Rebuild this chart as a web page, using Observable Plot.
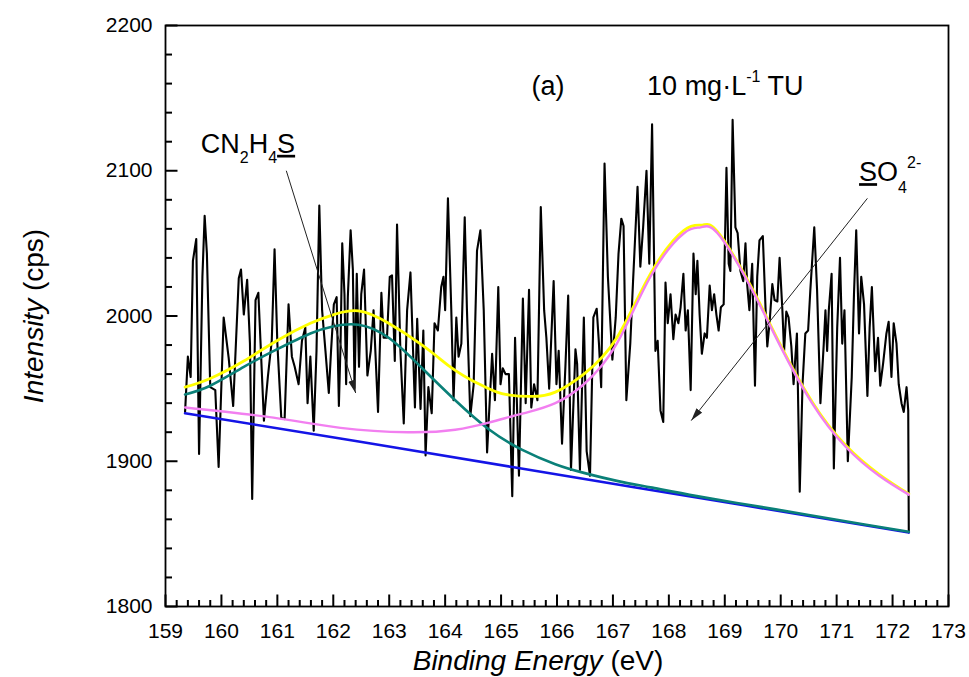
<!DOCTYPE html>
<html><head><meta charset="utf-8">
<script src="https://cdn.jsdelivr.net/npm/d3@7"></script>
<script src="https://cdn.jsdelivr.net/npm/@observablehq/plot@0.6"></script>
<style>body{margin:0;background:#fff}</style>
</head><body><div id="chart"></div>
<script>
// ---- raw XPS spectrum (binding energy eV, intensity cps) ----
const energy = [
159.35,159.40,159.45,159.49,159.55,159.60,159.66,159.70,159.74,159.80,
159.89,159.95,160.04,160.13,160.21,160.31,160.35,160.40,160.46,160.51,
160.55,160.61,160.66,160.70,160.76,160.83,160.90,160.95,161.00,161.07,
161.13,161.20,161.26,161.31,161.38,161.44,161.50,161.54,161.59,161.65,
161.70,161.75,161.80,161.86,161.92,161.96,162.01,162.06,162.10,162.13,
162.16,162.20,162.23,162.26,162.31,162.35,162.38,162.42,162.46,162.50,
162.55,162.61,162.67,162.72,162.80,162.86,162.90,162.96,163.01,163.05,
163.10,163.14,163.20,163.26,163.32,163.38,163.46,163.50,163.56,163.61,
163.65,163.70,163.76,163.81,163.87,163.93,163.97,164.00,164.05,164.11,
164.15,164.20,164.24,164.29,164.35,164.39,164.45,164.51,164.57,164.63,
164.69,164.75,164.84,164.89,164.95,164.99,165.03,165.08,165.14,165.20,
165.25,165.32,165.39,165.44,165.50,165.54,165.59,165.65,165.71,165.77,
165.81,165.86,165.94,165.99,166.03,166.09,166.15,166.20,166.25,166.33,
166.36,166.41,166.48,166.53,166.59,166.65,166.71,166.75,166.79,166.85,
166.91,166.99,167.05,167.10,167.15,167.19,167.24,167.31,167.36,167.44,
167.49,167.54,167.60,167.65,167.70,167.76,167.80,167.85,167.90,167.94,
167.98,168.03,168.08,168.12,168.17,168.21,168.26,168.30,168.34,168.39,
168.44,168.48,168.51,168.55,168.59,168.64,168.68,168.73,168.77,168.81,
168.85,168.89,168.93,168.98,169.03,169.07,169.10,169.14,169.19,169.23,
169.28,169.33,169.37,169.40,169.44,169.49,169.54,169.58,169.62,169.68,
169.73,169.76,169.80,169.85,169.89,169.94,169.98,170.03,170.06,170.10,
170.14,170.19,170.23,170.29,170.34,170.39,170.44,170.49,170.53,170.60,
170.65,170.71,170.77,170.80,170.83,170.86,170.91,170.95,171.01,171.06,
171.10,171.14,171.20,171.27,171.31,171.35,171.40,171.44,171.49,171.55,
171.59,171.63,171.69,171.74,171.78,171.83,171.89,171.93,171.98,172.02,
172.07,172.11,172.16,172.20,172.25,172.28,172.29];
const counts = [
1934,1972,1958,2038,2053,1905,2027,2069,2043,1951,
1949,1896,1999,1971,1938,2026,2032,2001,2025,1981,
1874,2011,2016,1981,1928,1958,1983,2046,1981,1930,
1929,2008,1972,1965,1953,1983,1992,1940,1972,1921,
1976,2076,2004,1976,1947,1976,2008,2013,1938,1981,
2050,2015,1953,2013,2059,2032,1950,2029,1965,2015,
2032,1959,1976,2004,1934,2016,1985,1985,2027,2028,
1969,2063,1976,1926,2004,2030,1937,1998,1936,1990,
1904,1951,1933,1995,1990,2020,2027,2004,2081,2004,
1942,1999,1972,1981,2068,2004,1931,1953,2045,2059,
2004,1906,1974,1942,2020,1953,1964,1960,1960,1876,
1985,1890,2012,1940,2018,1937,1953,1942,2075,2004,
1985,1950,2024,1953,1976,1912,1965,2014,1894,1977,
1967,1894,1999,1907,1890,1999,2005,1981,1951,2105,
2027,1970,1999,2043,2067,2062,1942,1981,2024,2089,
2034,2061,2100,2036,2132,1976,1983,1935,1927,2023,
1995,2015,1984,2001,1995,2006,2029,1990,2004,1949,
2043,2015,2038,2001,1974,1988,1985,2021,2004,2015,
2001,1990,2006,2008,2102,2036,2031,2135,2061,2057,
2031,2024,2050,2022,2004,2036,1952,2027,2052,2055,
2004,1979,1995,2022,2011,2010,2040,2004,1976,2003,
1999,1979,1953,1988,1879,1953,1988,1990,2018,2061,
2018,1940,1981,2004,1976,2004,2029,1895,1992,2040,
1981,2004,1900,1958,2015,2059,1988,2027,2008,1945,
1992,2020,1962,1985,1952,1967,1988,1996,1958,1995,
1981,1953,1940,1934,1951,1935,1851];

// ---- fitted curves ----
const bgEnergy = [159.35,162.40,165.20,169.37,172.29];
const bgCounts = [1933,1914,1896,1869.5,1851];
const tuEnergy = [159.35,159.80,160.40,160.99,161.59,162.01,162.45,162.99,163.59,164.18,164.78,165.37,165.97,166.48,167.07,167.67,168.50,169.50,170.50,171.50,172.29];
const tuCounts = [1946,1952,1965,1977,1988,1993,1994,1985,1964,1942,1922,1908,1898,1892,1886.5,1882,1876,1869.5,1863,1856.5,1851.5];
const envEnergy = [159.35,159.80,160.40,160.99,161.59,162.01,162.45,162.99,163.59,163.89,164.18,164.48,164.78,165.08,165.55,165.97,166.48,167.07,167.67,168.27,168.60,168.87,169.46,169.97,170.56,171.16,171.76,172.29];
const envCounts = [1951,1957,1969,1983,1995,2001,2003.5,1995,1980,1971,1962.5,1955.6,1950,1946,1944.6,1947.6,1960,1985,2029,2059,2062.6,2058,2021,1982,1941,1911,1891,1877.5];
const so4Energy = [159.35,160.93,162.13,163.33,164.18,164.78,165.20,165.50,165.97,166.48,167.07,167.67,168.27,168.57,168.87,169.46,169.97,170.56,171.16,171.76,172.29];
const so4Counts = [1937,1930,1923,1920,1921.7,1926.6,1931,1934,1940,1953,1981,2027,2057,2061,2057,2020,1981,1940,1910,1890,1877];

// ---- ticks ----
const xMajor = [159,160,161,162,163,164,165,166,167,168,169,170,171,172,173];
const xMinor = d3.range(0, 70).map(i => 159 + i * 0.2).filter((v, i) => i % 5 !== 0);
const yMajor = [1800, 1900, 2000, 2100, 2200];
const yMinor = d3.range(0, 20).map(i => 1800 + i * 20).filter((v, i) => i % 5 !== 0);

// ---- annotation arrows ----
const arrowStartE = [161.16, 171.55];
const arrowStartC = [2100, 2081];
const arrowEndE = [162.40, 168.40];
const arrowEndC = [1947, 1928];

const FONT = "'Liberation Sans', Arial, Helvetica, sans-serif";
const toRows = (xs, ys) => xs.map((x, i) => ({x, y: ys[i]}));
const raw = toRows(energy, counts);
const bg = toRows(bgEnergy, bgCounts);
const tu = toRows(tuEnergy, tuCounts);
const env = toRows(envEnergy, envCounts);
const so4 = toRows(so4Energy, so4Counts);
const arrows = arrowStartE.map((e, i) => ({x1: e, y1: arrowStartC[i], x2: arrowEndE[i], y2: arrowEndC[i]}));

const W = 969, H = 677, ML = 165, MR = 21, MT = 25, MB = 71;
const innerW = W - ML - MR, innerH = H - MT - MB;
// tick lengths (pixels) converted to data units of each scale
const kY = 400 / innerH, kX = 14 / innerW;
const xTicks = [...xMajor.map(v => ({v, l: 12})), ...xMinor.map(v => ({v, l: 6.5}))];
const yTicks = [...yMajor.map(v => ({v, l: 12})), ...yMinor.map(v => ({v, l: 6.5}))];

const plot = Plot.plot({
  width: W, height: H,
  marginLeft: ML, marginRight: MR, marginTop: MT, marginBottom: MB,
  x: {domain: [159, 173]},
  y: {domain: [1800, 2200]},
  style: {fontFamily: FONT, background: "white", color: "black"},
  marks: [
    Plot.line(raw, {x: "x", y: "y", stroke: "#000", strokeWidth: 2.1}),
    Plot.line(bg, {x: "x", y: "y", stroke: "#1414e6", strokeWidth: 2.6, curve: "natural"}),
    Plot.line(tu, {x: "x", y: "y", stroke: "#0a8078", strokeWidth: 2.6, curve: "natural"}),
    Plot.line(env, {x: "x", y: "y", stroke: "#ffff00", strokeWidth: 2.8, curve: "natural"}),
    Plot.line(so4, {x: "x", y: "y", stroke: "#f27ff0", strokeWidth: 2.4, curve: "natural"}),
    Plot.link(arrows, {x1: "x1", y1: "y1", x2: "x2", y2: "y2", stroke: "#222", strokeWidth: 1, markerEnd: "arrow"}),
    Plot.link(xTicks, {x1: "v", x2: "v", y1: () => 1800, y2: d => 1800 + d.l * kY, stroke: "#000", strokeWidth: 2}),
    Plot.link(yTicks, {y1: "v", y2: "v", x1: () => 159, x2: d => 159 + d.l * kX, stroke: "#000", strokeWidth: 2}),
    Plot.frame({stroke: "#000", strokeWidth: 1.8}),
    Plot.axisX({ticks: xMajor, tickSize: 0, tickPadding: 17, tickFormat: d => String(d), fontSize: 21, label: null}),
    Plot.axisY({ticks: yMajor, tickSize: 0, tickPadding: 13, tickFormat: d => String(d), fontSize: 21, label: null})
  ]
});
document.getElementById("chart").appendChild(plot);

// filled arrowheads (only the annotation arrows carry markers)
d3.select(plot).selectAll("marker")
  .attr("viewBox", "-13 -4 13 8").attr("markerWidth", 13).attr("markerHeight", 8)
  .attr("markerUnits", "userSpaceOnUse").attr("fill", "#222").attr("stroke", "none")
  .selectAll("path").attr("d", "M-13,-3.6L0,0L-13,3.6Z");

const X = plot.scale("x"), Y = plot.scale("y");
const svg = d3.select(plot);
const g = svg.append("g").attr("font-family", FONT).attr("fill", "#000");
function addText(x, y, parts, opts = {}) {
  const t = g.append("text").attr("x", x).attr("y", y)
    .attr("font-size", opts.size || 27).attr("text-anchor", opts.anchor || "start");
  if (opts.transform) t.attr("transform", opts.transform).attr("x", 0).attr("y", 0);
  for (const p of parts) {
    const s = t.append("tspan").text(p.t);
    if (p.dy) s.attr("dy", p.dy);
    if (p.size) s.attr("font-size", p.size);
    if (p.u) s.attr("text-decoration", "underline");
    if (p.i) s.attr("font-style", "italic");
  }
  return t;
}
// panel annotations, placed through the plot's scales
addText(X.apply(165.85), Y.apply(2151.5), [{t: "(a)"}], {anchor: "middle"});
addText(X.apply(167.62), Y.apply(2151.5), [{t: "10 mg\u00B7L"}, {t: "-1", dy: -13, size: 16}, {t: " TU", dy: 13}]);
addText(X.apply(159.64), Y.apply(2112), [{t: "CN"}, {t: "2", dy: 10, size: 16}, {t: "H", dy: -10}, {t: "4", dy: 10, size: 16}, {t: "S", dy: -10, u: true}]);
addText(X.apply(171.41), Y.apply(2092.5), [{t: "S", u: true}, {t: "O"}, {t: "4", dy: 12, size: 16}, {t: "2-", dy: -25, size: 16}]);
// axis titles
addText(538, 670, [{t: "Binding Energy", i: true}, {t: " (eV)"}], {anchor: "middle", size: 28});
addText(0, 0, [{t: "Intensity", i: true}, {t: " (cps)"}], {anchor: "middle", size: 28, transform: "translate(43,316) rotate(-90)"});
</script>
</body></html>
